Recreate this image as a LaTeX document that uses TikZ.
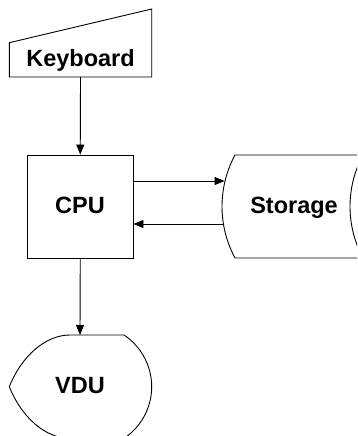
\documentclass[tikz,border=0pt]{standalone}
\usepackage{fontspec}
\setmainfont{Liberation Sans}
\usetikzlibrary{arrows.meta}
\begin{document}
\begin{tikzpicture}[x=1pt,y=1pt,
  outline/.style={draw=black,line width=0.9pt,line join=miter},
  lbl/.style={font=\fontsize{23.5}{28}\selectfont\bfseries,inner sep=0pt,anchor=base},
  conn/.style={draw=black,line width=0.9pt,-{Triangle[length=10pt,width=8pt]}}]
\useasboundingbox (0,0) rectangle (357,436);
\clip (0,0) rectangle (357,436);
% Keyboard (manual input)
\draw[outline] (9.3,359) -- (151.7,359) -- (151.7,427) -- (9.3,393.3) -- cycle;
\coordinate (kbS) at (80.5,359);
\node[lbl] (kb) at (80.5,369.3) {Keyboard};
% CPU (process)
\node[outline,minimum width=105.5pt,minimum height=103pt,inner sep=0pt] (cpu) at (80.25,229.5) {};
\node[lbl] (cput) at (80,222.7) {CPU};
% Storage (direct access storage)
\draw[outline] (363,281) -- (235,281) arc[start angle=151.67,end angle=208.33,radius=108.5] -- (363,178);
\draw[outline] (363,281) arc[start angle=151.67,end angle=208.33,radius=108.5];
\coordinate (stIn) at (224.6,255);
\coordinate (stOut) at (223.4,212);
\node[lbl] (st) at (294,222.7) {Storage};
% VDU (display)
\draw[outline] (70,101) -- (124,101) arc[start angle=56.36,end angle=-56.36,radius=62.1]
  -- (70,-2.4) .. controls (45,-2.4) and (21.3,19.3) .. (9.3,49.3)
  .. controls (21.3,79.3) and (45,101) .. (70,101) -- cycle;
\coordinate (vduN) at (80,101);
\node[lbl] (vdu) at (80,42.7) {VDU};
% connectors
\draw[conn] (kbS) -- (cpu.north);
\draw[conn] (cpu.east |- stIn) -- (stIn);
\draw[conn] (stOut) -- (cpu.east |- stOut);
\draw[conn] (cpu.south) -- (vduN);
\end{tikzpicture}
\end{document}
